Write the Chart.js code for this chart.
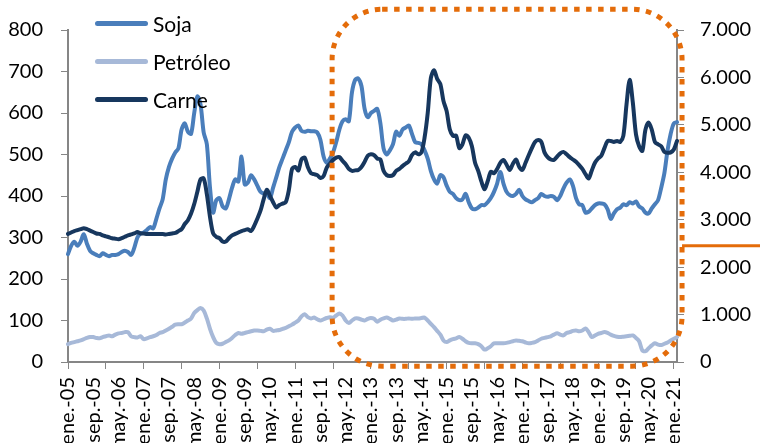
<!DOCTYPE html>
<html>
<head>
<meta charset="utf-8">
<script src="https://cdn.jsdelivr.net/npm/chart.js@4.4.1/dist/chart.umd.min.js"></script>
<style>
  body { margin: 0; background: #fff; }
  #wrap { position: relative; width: 760px; height: 443px; overflow: hidden; }
  .legend { position: absolute; left: 95px; font-family: Lato, sans-serif; font-size: 21px; color: #000;
            display: flex; align-items: center; height: 26px; }
  .legend span.swatch { display: inline-block; width: 53px; height: 5px; border-radius: 3px; margin-right: 5px; }
</style>
</head>
<body>
<div id="wrap">
  <canvas id="myChart" width="760" height="443"></canvas>
  <div class="legend" style="top:10px"><span class="swatch" style="background:#4A7EBB"></span>Soja</div>
  <div class="legend" style="top:48px"><span class="swatch" style="background:#A7B9D8"></span>Petróleo</div>
  <div class="legend" style="top:86px"><span class="swatch" style="background:#17375E"></span>Carne</div>
</div>
<script>
// monthly data, ene.-05 .. feb.-21
var MONTHS = ['ene.', 'feb.', 'mar.', 'abr.', 'may.', 'jun.', 'jul.', 'ago.', 'sep.', 'oct.', 'nov.', 'dic.'];
var FIRST_YEAR = 2005;

var soja = [
  260, 280, 290, 280, 290, 308, 285, 268, 262, 258, 255, 262,
  258, 255, 258, 258, 260, 265, 268, 265, 258, 275, 300, 310,
  312, 318, 325, 322, 345, 370, 392, 440, 470, 490, 505, 515,
  560, 575, 555, 550, 600, 640, 620, 553, 525, 420, 360, 390,
  395, 375, 370, 392, 420, 440, 435, 495, 428, 432, 450, 440,
  425, 410, 406, 405, 395, 420, 445, 470, 490, 510, 530, 555,
  565, 570, 557, 555, 557, 556, 556, 553, 535, 495, 480, 490,
  505, 530, 560, 580, 585, 580, 650, 680, 683, 665, 610, 590,
  600, 605, 610, 575, 515, 500, 510, 525, 555, 545, 560, 565,
  570, 550, 530, 528, 525, 510, 490, 460, 440, 430, 450, 445,
  425, 410, 405, 395, 390, 392, 405, 385, 370, 368, 372, 378,
  378, 385, 395, 410, 430, 458, 430, 410, 402, 400, 405, 415,
  400, 392, 388, 385, 390, 395, 405, 400, 398, 400, 398, 390,
  400, 418, 432, 440, 425, 395, 380, 378, 360, 362, 370, 378,
  382, 382, 380, 368, 345, 358, 368, 372, 380, 378, 385, 382,
  387, 375, 370, 360, 358, 370, 380, 390, 420, 455, 510, 550,
  575, 578
];

var petroleo = [
  43, 46, 48, 50, 52, 55, 58, 60, 60, 58, 57, 60,
  62, 64, 62, 66, 69, 70, 72, 72, 62, 60, 59, 62,
  55, 57, 60, 62, 65, 70, 72, 76, 80, 85, 90, 91,
  91, 95, 100, 105, 118, 125, 130, 124, 105, 80, 60, 46,
  43, 44, 48, 52, 58, 65, 70, 68, 70, 72, 74, 76,
  76, 75, 74, 78, 80, 75, 76, 77, 80, 82, 86, 90,
  95, 100, 110, 115, 108, 105, 107, 103, 100, 103, 106, 108,
  107, 112, 117, 112, 100, 94, 100, 105, 105, 102, 100, 104,
  106, 104, 97, 102, 105, 107, 104, 100, 102, 105, 104, 104,
  105, 104, 105, 105, 106, 107, 100, 92, 84, 75, 66, 52,
  48, 52, 55, 57, 60, 56, 50, 46, 45, 45, 43, 38,
  30, 33, 38, 45, 45, 45, 45, 46, 48, 50, 52, 51,
  50, 47, 45, 46, 48, 52, 56, 58, 60, 62, 66, 69,
  66, 64, 70, 72, 75, 76, 74, 76, 81, 72, 60, 64,
  68, 70, 72, 70, 66, 63, 61, 60, 61, 62, 63, 64,
  58, 50, 28, 26, 33, 40, 45, 42, 41, 44, 47, 52,
  56, 60
];

// Carne goes on the right axis
var carne = [
  2700, 2730, 2760, 2780, 2800, 2820, 2800, 2770, 2740, 2710, 2700, 2670,
  2650, 2630, 2610, 2600, 2590, 2610, 2640, 2670, 2690, 2710, 2740, 2710,
  2710, 2700, 2700, 2700, 2700, 2700, 2700, 2690, 2700, 2710, 2720, 2760,
  2800, 2910, 2990, 3130, 3330, 3590, 3850, 3870, 3540, 3060, 2710, 2640,
  2610, 2540, 2540, 2610, 2670, 2700, 2730, 2760, 2780, 2800, 2760, 2870,
  3020, 3190, 3430, 3630, 3500, 3370, 3260, 3310, 3340, 3370, 3630, 4070,
  4110, 4040, 4270, 4310, 4110, 3980, 3960, 3940, 3880, 3920, 4100, 4180,
  4260, 4310, 4320, 4240, 4170, 4070, 4030, 4040, 4050, 4110, 4220, 4350,
  4380, 4360, 4290, 4270, 4030, 3940, 3920, 3940, 4030, 4070, 4130, 4180,
  4230, 4360, 4420, 4380, 4420, 4730, 5250, 5990, 6150, 5970, 5860, 5500,
  5290, 4900, 4770, 4770, 4510, 4590, 4780, 4730, 4550, 4200, 4030, 3810,
  3640, 3810, 4010, 3980, 4070, 4200, 4260, 4160, 4050, 4180, 4270, 4110,
  4050, 4200, 4360, 4510, 4640, 4680, 4640, 4420, 4320, 4270, 4260, 4330,
  4400, 4430, 4380, 4320, 4270, 4220, 4150, 4070, 3960, 3870, 4040, 4200,
  4290, 4350, 4510, 4660, 4660, 4640, 4660, 4640, 4770, 5430, 5950, 5470,
  4800, 4550, 4450, 4900, 5050, 4900, 4640, 4590, 4550, 4430, 4410, 4420,
  4480, 4660
];

// highlighted period (month index / left axis units) and right-axis marker
var HIGHLIGHT = { from: 83.7, to: 194.6, top: 850, bottom: -10 };
var MARKER_VALUE = 2450;

var labels = [];
for (var i = 0; i < soja.length; i++) {
    labels.push(MONTHS[i % 12] + '-' + String((FIRST_YEAR + Math.floor(i / 12)) % 100).padStart(2, '0'));
}

var ORANGE = '#E46C0A';
var AXIS = '#868686';
var tickFont = { family: 'Lato, sans-serif', size: 20 };

// dotted rounded box + marker line
var highlightPlugin = {
    id: 'highlight',
    afterDraw: function (chart) {
        var ctx = chart.ctx;
        var x = chart.scales.x, y = chart.scales.y, y1 = chart.scales.y1;
        var l = x.getPixelForValue(HIGHLIGHT.from), r = x.getPixelForValue(HIGHLIGHT.to);
        var t = y.getPixelForValue(HIGHLIGHT.top), b = y.getPixelForValue(HIGHLIGHT.bottom);
        var rad = 50;
        ctx.save();
        ctx.strokeStyle = ORANGE;
        ctx.lineWidth = 5;
        ctx.setLineDash([5.5, 6.5]);
        ctx.beginPath();
        ctx.moveTo(l + rad, t);
        ctx.arcTo(r, t, r, b, rad);
        ctx.arcTo(r, b, l, b, rad);
        ctx.arcTo(l, b, l, t, rad);
        ctx.arcTo(l, t, r, t, rad);
        ctx.closePath();
        ctx.stroke();
        // marker
        ctx.setLineDash([]);
        ctx.lineWidth = 3;
        var my = y1.getPixelForValue(MARKER_VALUE);
        ctx.beginPath();
        ctx.moveTo(r, my);
        ctx.lineTo(chart.width, my);
        ctx.stroke();
        ctx.restore();
    }
};

var ctx = document.getElementById('myChart').getContext('2d');
var myChart = new Chart(ctx, {
    type: 'line',
    data: {
        labels: labels,
        datasets: [
            { label: 'Soja', data: soja, borderColor: '#4A7EBB', yAxisID: 'y', order: 1 },
            { label: 'Petróleo', data: petroleo, borderColor: '#A7B9D8', yAxisID: 'y', order: 2 },
            { label: 'Carne', data: carne, borderColor: '#17375E', yAxisID: 'y1', order: 0 }
        ]
    },
    options: {
        responsive: false,
        animation: false,
        devicePixelRatio: 1,
        layout: { padding: { top: 27, left: 0, right: 0, bottom: 0 } },
        elements: {
            point: { radius: 0 },
            line: { borderWidth: 4, tension: 0.3, borderCapStyle: 'round', borderJoinStyle: 'round' }
        },
        plugins: { legend: { display: false }, tooltip: { enabled: false } },
        scales: {
            x: {
                offset: false,
                afterFit: function (scale) { scale.height = 81; },
                border: { color: AXIS, width: 2 },
                grid: {
                    drawOnChartArea: false,
                    tickLength: 7,
                    color: function (c) { return c.index % 12 === 0 ? AXIS : 'rgba(0,0,0,0)'; }
                },
                ticks: {
                    autoSkip: false,
                    minRotation: 90,
                    maxRotation: 90,
                    padding: 8,
                    color: '#000',
                    font: tickFont,
                    callback: function (v, idx) { return idx % 8 === 0 ? labels[idx] : ''; }
                }
            },
            y: {
                position: 'left',
                min: 0, max: 800,
                afterFit: function (scale) { scale.width = 68; },
                border: { color: AXIS, width: 2 },
                grid: { drawOnChartArea: false, tickLength: 7, color: AXIS },
                ticks: { stepSize: 100, padding: 18, color: '#000', font: tickFont }
            },
            y1: {
                position: 'right',
                min: 0, max: 7000,
                afterFit: function (scale) { scale.width = 83; },
                border: { color: AXIS, width: 2 },
                grid: { drawOnChartArea: false, tickLength: 7, color: AXIS },
                ticks: {
                    stepSize: 1000, padding: 16, color: '#000', font: tickFont,
                    callback: function (v) { return String(v).replace(/\B(?=(\d{3})+(?!\d))/g, '.'); }
                }
            }
        }
    },
    plugins: [highlightPlugin]
});
</script>
</body>
</html>
